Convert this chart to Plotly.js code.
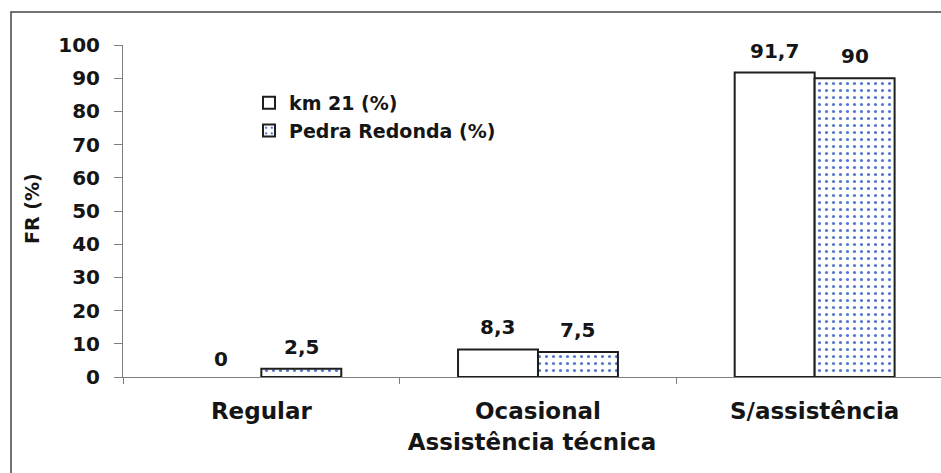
<!DOCTYPE html>
<html>
<head>
<meta charset="utf-8">
<script src="https://cdn.plot.ly/plotly-3.0.1.min.js"></script>
<style>html,body{margin:0;padding:0;background:#fff;}#chart{width:941px;height:473px;}</style>
</head>
<body>
<div id="chart"></div>
<script>
// Data
const categories = ["Regular", "Ocasional", "S/assistência"];
const km21 = [0, 8.3, 91.7];
const pedraRedonda = [2.5, 7.5, 90];
const seriesNames = ["km 21 (%)", "Pedra Redonda (%)"];
const yTicks = [0, 10, 20, 30, 40, 50, 60, 70, 80, 90, 100];

const FONT = "DejaVu Sans, Arial, sans-serif";
const TXT = "#151515";
const OUTLINE = "#1e1e1e";

// legend entry for km 21 (no data of its own, shares the bar slot of km 21)
const legendA = {
  type: "bar", name: seriesNames[0], x: categories, y: categories.map(() => null),
  offsetgroup: "a", showlegend: true,
  marker: {color: "#ffffff", line: {color: OUTLINE, width: 2}},
  hoverinfo: "skip"
};
const traceA = {
  type: "bar", name: seriesNames[0], x: categories, y: km21,
  offsetgroup: "a", showlegend: false,
  marker: {color: "#ffffff", line: {color: OUTLINE, width: km21.map(v => v === 0 ? 0 : 2)}},
  hoverinfo: "skip"
};
const traceB = {
  type: "bar", name: seriesNames[1], x: categories, y: pedraRedonda,
  offsetgroup: "b",
  marker: {
    color: "#ffffff",
    line: {color: OUTLINE, width: 2},
    pattern: {shape: ".", fgcolor: "#5577d0", bgcolor: "#ffffff", size: 7, solidity: 0.16, fillmode: "replace"}
  },
  hoverinfo: "skip"
};

const fmt = v => String(v).replace(".", ",");
const annotations = [];
[[km21, -40], [pedraRedonda, 40]].forEach(([vals, dx]) => {
  vals.forEach((v, i) => {
    annotations.push({
      x: categories[i], y: v, xref: "x", yref: "y",
      text: "<b>" + fmt(v) + "</b>", showarrow: false,
      xshift: dx, yshift: v === 0 ? 4 : 8, yanchor: "bottom",
      font: {family: FONT, size: 20, color: TXT}
    });
  });
});
annotations.push({
  xref: "paper", yref: "paper", x: (32 - 123) / 818, y: (377 - 209) / 332,
  text: "<b>FR (%)</b>", showarrow: false, textangle: -90,
  xanchor: "center", yanchor: "middle",
  font: {family: FONT, size: 19, color: TXT}
});

const layout = {
  width: 941, height: 473,
  margin: {l: 123, r: 0, t: 45, b: 96},
  paper_bgcolor: "#ffffff", plot_bgcolor: "#ffffff",
  barmode: "group", bargap: 0.422, bargroupgap: 0,
  showlegend: true,
  legend: {
    x: (249 - 123) / 818, y: (377 - 84) / 332, xanchor: "left", yanchor: "top",
    bgcolor: "rgba(0,0,0,0)", borderwidth: 0,
    font: {family: FONT, size: 19, color: TXT, weight: "bold"},
    tracegroupgap: 0, itemwidth: 30, traceorder: "normal"
  },
  xaxis: {
    type: "category", range: [-0.5, 2.4567],
    showline: true, linecolor: "#7f7f7f", linewidth: 1,
    ticks: "outside", tickson: "boundaries", ticklen: 6, tickcolor: "#7f7f7f",
    showgrid: false, zeroline: false,
    tickfont: {family: FONT, size: 23, color: TXT, weight: "bold"},
    ticklabelstandoff: 13,
    title: {text: "<b>Assistência técnica</b>", font: {family: FONT, size: 23, color: TXT}, standoff: 11}
  },
  yaxis: {
    range: [0, 100], tickvals: yTicks, ticktext: yTicks.map(String),
    showline: true, linecolor: "#7f7f7f", linewidth: 1,
    ticks: "outside", ticklen: 8, tickcolor: "#7f7f7f",
    showgrid: false, zeroline: false,
    tickfont: {family: FONT, size: 20, color: TXT, weight: "bold"},
    ticklabelstandoff: 10
  },
  shapes: [{
    type: "rect", xref: "paper", yref: "paper",
    x0: (11 - 123) / 818, x1: 1.05, y0: -0.5, y1: (377 - 12) / 332,
    line: {color: "#444444", width: 1.5}, fillcolor: "rgba(0,0,0,0)", layer: "above"
  }],
  annotations: annotations
};

Plotly.newPlot("chart", [legendA, traceA, traceB], layout, {staticPlot: true, displayModeBar: false});
</script>
</body>
</html>
